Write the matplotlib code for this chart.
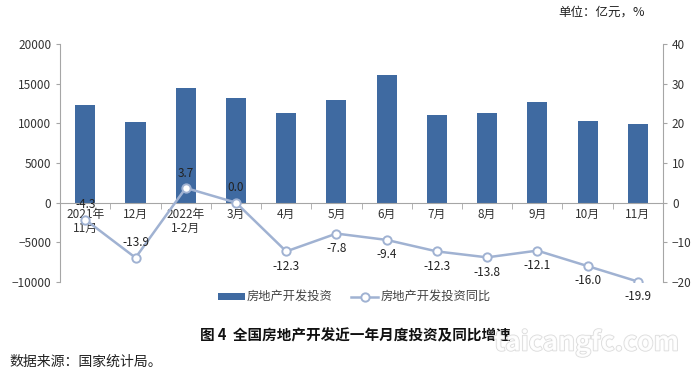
import matplotlib
matplotlib.use('Agg')
import matplotlib.pyplot as plt
import matplotlib.patheffects as pe
import numpy as np

plt.rcParams['font.family'] = ['Noto Sans CJK SC', 'DejaVu Sans']

months = ['2021年\n11月', '12月', '2022年\n1-2月', '3月', '4月', '5月',
          '6月', '7月', '8月', '9月', '10月', '11月']
investment = [12300, 10200, 14500, 13200, 11300, 12900,
              16100, 11100, 11300, 12700, 10300, 9900]
growth = [-4.3, -13.9, 3.7, 0.0, -12.3, -7.8,
          -9.4, -12.3, -13.8, -12.1, -16.0, -19.9]
labels_above = [True, True, True, True, False, False,
                False, False, False, False, False, False]

bar_color = '#3f6aa1'
line_color = '#a0b2d2'
axis_color = '#a6a6a6'

fig = plt.figure(figsize=(7, 3.7), dpi=100)
ax = fig.add_axes([0.086, 0.238, 0.861, 0.643])
x = np.arange(len(months))

ax.bar(x, investment, width=0.4, color=bar_color, label='房地产开发投资', zorder=2)
ax.set_xlim(-0.5, len(months) - 0.5)
ax.set_ylim(-10000, 20000)
ax.set_yticks(range(-10000, 20001, 5000))
ax.tick_params(axis='y', labelsize=8.5, colors='#333333', length=3, color=axis_color)

for s in ['top', 'right']:
    ax.spines[s].set_visible(False)
ax.spines['left'].set_color(axis_color)
ax.spines['bottom'].set_position(('data', 0))
ax.spines['bottom'].set_color(axis_color)
ax.set_xticks(x)
ax.set_xticklabels(months, fontsize=8.5, color='#333333', linespacing=1.1)
ax.set_xticks(np.arange(-0.5, len(months), 1), minor=True)
ax.tick_params(axis='x', which='major', length=0, pad=4)
ax.tick_params(axis='x', which='minor', length=4, color=axis_color, direction='out')

ax2 = ax.twinx()
ax2.set_ylim(-20, 40)
ax2.set_yticks(range(-20, 41, 10))
ax2.plot(x, growth, color=line_color, lw=1.8, marker='o', markersize=6,
         markerfacecolor='white', markeredgecolor=line_color, markeredgewidth=1.4,
         label='房地产开发投资同比', zorder=3)
for s in ['top', 'left', 'bottom']:
    ax2.spines[s].set_visible(False)
ax2.spines['right'].set_color(axis_color)
ax2.tick_params(axis='y', labelsize=8.5, colors='#333333', length=3, color=axis_color)

for xi, v, up in zip(x, growth, labels_above):
    ax2.annotate(f'{v:.1f}', (xi, v), xytext=(0, 6 if up else -6),
                 textcoords='offset points', ha='center',
                 va='bottom' if up else 'top', fontsize=8.5, color='#222222')

h1, l1 = ax.get_legend_handles_labels()
h2, l2 = ax2.get_legend_handles_labels()
fig.legend(h1 + h2, l1 + l2, loc='center', bbox_to_anchor=(0.506, 0.197),
           ncol=2, frameon=False, fontsize=8.8, handlelength=2.2,
           handleheight=0.5, columnspacing=1.5, handletextpad=0.2,
           labelcolor='#444444')

fig.text(0.921, 0.967, '单位：亿元，%', ha='right', va='center', fontsize=9, color='#222222')
fig.text(0.507, 0.095, '图 4  全国房地产开发近一年月度投资及同比增速',
         ha='center', va='center', fontsize=10.5, fontweight='bold', color='#111111')
fig.text(0.014, 0.022, '数据来源：国家统计局。', ha='left', va='center',
         fontsize=10, color='#222222')
fig.text(0.97, 0.073, 'taicangfc.com', ha='right', va='center', fontsize=19,
         fontweight='bold', color='white', alpha=0.9,
         path_effects=[pe.withStroke(linewidth=1.2, foreground='#d8d8d8')])

fig.savefig('out.png', dpi=100)
